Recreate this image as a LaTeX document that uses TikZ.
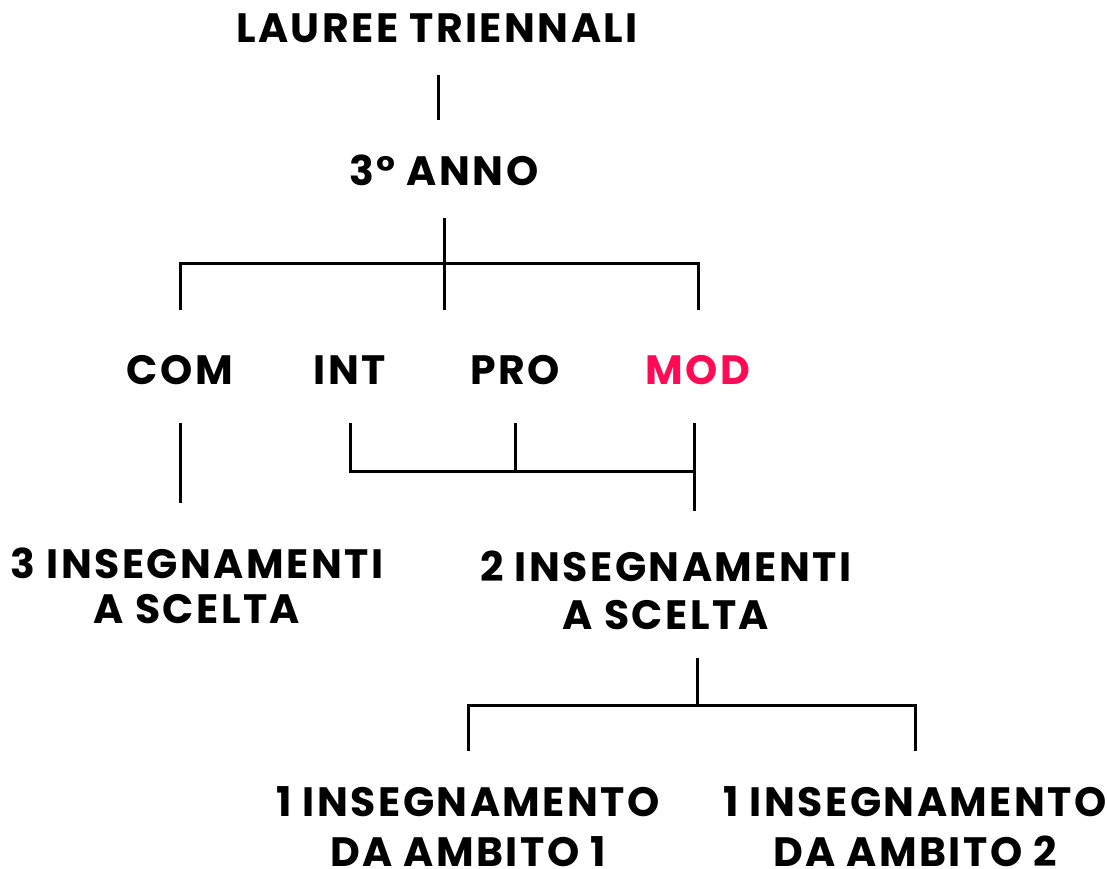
\documentclass[tikz,border=0pt]{standalone}
\usepackage{fontspec}
\setmainfont{Poppins}[LetterSpace=6]
\usetikzlibrary{positioning}
\definecolor{modpink}{RGB}{255,10,84}
\tikzset{
  lbl/.style={font=\bfseries\fontsize{41}{46}\selectfont, align=center, inner sep=0pt},
  link/.style={line width=3pt, black},
}

\begin{document}
\begin{tikzpicture}[x=1pt,y=-1pt]
  \useasboundingbox (0,0) rectangle (1107,869);
  % top
  \node[lbl] (laurea) at (437,28) {LAUREE TRIENNALI};
  \node[lbl] (anno) at (444,170) {3° ANNO};
  % indirizzi
  \node[lbl] (com) at (180,370) {COM};
  \node[lbl] (int) at (350,370) {INT};
  \node[lbl] (pro) at (515,370) {PRO};
  \node[lbl, text=modpink] (mod) at (698,370) {MOD};
  % esami
  \node[lbl, font=\bfseries\fontsize{41}{45}\selectfont] (tre) at (197,586) {3 INSEGNAMENTI\\A SCELTA};
  \node[lbl, font=\bfseries\fontsize{41}{48}\selectfont] (due) at (666,590) {2 INSEGNAMENTI\\A SCELTA};
  \node[lbl, font=\bfseries\fontsize{41}{50}\selectfont] (amb1) at (468,827) {1 INSEGNAMENTO\\DA AMBITO 1};
  \node[lbl, font=\bfseries\fontsize{41}{50}\selectfont] (amb2) at (915,827) {1 INSEGNAMENTO\\DA AMBITO 2};

  % junctions
  \coordinate (j1) at (444,263);
  \coordinate (j2) at (694,471);
  \coordinate (j3) at (697,705);

  \draw[link] (438,75) -- (438,120);
  \draw[link] (anno |- 0,218) -- (anno |- 0,310);
  \draw[link] (com |- 0,310) -- (com |- j1) -- (mod |- j1) -- (mod |- 0,310);

  \draw[link] (com |- 0,423) -- (com |- 0,503);
  \draw[link] (int |- 0,423) -- (int |- j2) -- (j2);
  \draw[link] (pro |- 0,423) -- (pro |- j2);
  \draw[link] (j2 |- 0,423) -- (j2 |- 0,511);

  \draw[link] (j3 |- 0,658) -- (j3);
  \draw[link] (amb1 |- 0,751) -- (amb1 |- j3) -- (amb2 |- j3) -- (amb2 |- 0,751);
\end{tikzpicture}
\end{document}
